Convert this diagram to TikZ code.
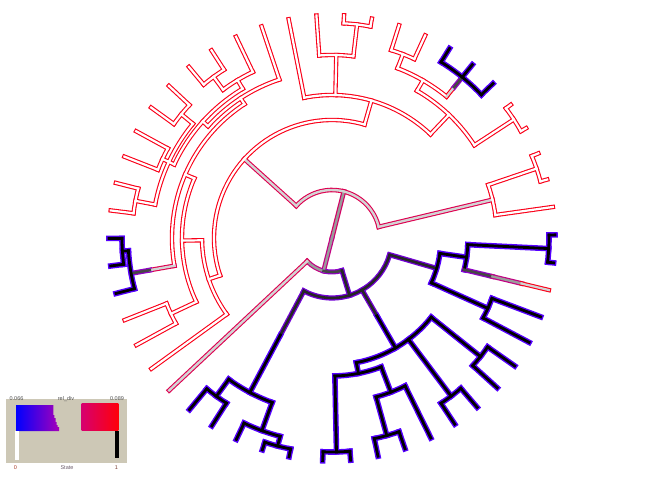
\documentclass[tikz,border=0pt]{standalone}
\usepackage{fontspec}
\setmainfont{Liberation Sans}
\definecolor{cRed}{RGB}{250,0,25}
\definecolor{cBlue}{RGB}{85,0,255}
\definecolor{cPur}{RGB}{115,0,215}
\definecolor{cMag}{RGB}{195,0,130}
\definecolor{cCri}{RGB}{222,0,80}
\definecolor{cCg}{RGB}{212,0,100}
\definecolor{cPk}{RGB}{145,0,200}
\definecolor{gLt}{RGB}{212,212,212}
\definecolor{gMd}{RGB}{155,155,155}
\definecolor{gDk}{RGB}{70,70,70}
\definecolor{legbg}{RGB}{205,200,182}
\definecolor{legtx}{RGB}{80,80,80}
\tikzset{
 base/.style={line cap=rect},
 rrout/.style={base,line width=4.4pt,draw=cRed}, rrin/.style={base,line width=2.2pt,draw=white},
 rgout/.style={base,line width=4.4pt,draw=cRed}, rgin/.style={base,line width=2.2pt,draw=gLt},
 bbout/.style={base,line width=5.6pt,draw=cBlue}, bbin/.style={base,line width=2.8pt,draw=black},
 ppout/.style={base,line width=5.2pt,draw=cPur}, ppin/.style={base,line width=2.6pt,draw=black!85},
 mgout/.style={base,line width=4.8pt,draw=cMag}, mgin/.style={base,line width=2.4pt,draw=gMd},
 ckout/.style={base,line width=4.6pt,draw=cCri}, ckin/.style={base,line width=2.4pt,draw=gLt},
 cgout/.style={base,line width=4.8pt,draw=cCg}, cgin/.style={base,line width=2.4pt,draw=gMd},
 pkout/.style={base,line width=5pt,draw=cPk}, pkin/.style={base,line width=2.6pt,draw=gDk},
 legtxt/.style={inner sep=0pt, font=\fontsize{5.5}{6}\selectfont},
}
\newif\ifinnerpass
\newcommand\R[4]{\ifinnerpass\draw[#1in] (#2:#3pt) -- (#2:#4pt);\else\draw[#1out] (#2:#3pt) -- (#2:#4pt);\fi}
\newcommand\A[4]{\ifinnerpass\draw[#1in] (#2:#4pt) arc[start angle=#2,end angle=#3,radius=#4pt];\else\draw[#1out] (#2:#4pt) arc[start angle=#2,end angle=#3,radius=#4pt];\fi}
\newcommand\treebody{%
% root
\R{cg}{75.7}{0}{48}
\R{mg}{255.7}{0}{34}
% clade A
\A{ck}{13.4}{138}{48}
\R{ck}{13.4}{48}{165}
\A{rr}{8.0}{18.75}{165}
\R{rr}{8.0}{165}{223}
\R{rr}{18.75}{165}{216}
\A{rr}{15.2}{22.3}{216}
\R{rr}{15.2}{216}{223}
\R{rr}{22.3}{216}{223}
\R{ck}{138}{48}{118}
\A{rr}{74}{198.5}{118}
% A1R
\R{rr}{74}{118}{143}
\A{rr}{46.5}{101.2}{143}
\R{rr}{101.2}{143}{223}
\R{rr}{88.65}{143}{183}
\A{rr}{83.3}{94.0}{183}
\R{rr}{94.0}{183}{223}
\R{rr}{83.3}{183}{215}
\A{rr}{79.7}{86.9}{215}
\R{rr}{79.7}{215}{223}
\R{rr}{86.9}{215}{223}
% V
\R{rr}{46.5}{143}{170}
\A{rr}{33.1}{60}{170}
\R{rr}{33.1}{170}{217}
\A{rr}{29.5}{36.7}{217}
\R{rr}{29.5}{217}{223}
\R{rr}{36.7}{217}{223}
\R{rr}{60}{170}{182}
\A{rr}{51}{68.9}{182}
\R{rg}{51}{182}{194}
\R{pk}{51}{194}{207}
\A{bb}{43.8}{58.2}{207}
\R{bb}{43.8}{207}{223}
\R{bb}{51.0}{207}{223}
\R{bb}{58.2}{207}{223}
\R{rr}{68.9}{182}{197}
\A{rr}{65.3}{72.5}{197}
\R{rr}{65.3}{197}{223}
\R{rr}{72.5}{197}{223}
% X
\R{rr}{198.5}{118}{130}
\A{rr}{181}{215.9}{130}
\R{rr}{215.9}{130}{223}
% Y
\R{rr}{181}{130}{150}
\A{rr}{156.6}{205.2}{150}
\R{rr}{205.2}{150}{178}
\A{rr}{201.6}{208.7}{178}
\R{rr}{201.6}{178}{223}
\R{rr}{208.7}{178}{223}
% Z
\R{rr}{156.6}{150}{160}
\A{rr}{123.2}{190}{160}
\R{ck}{190}{160}{185}
\R{pk}{190}{185}{204}
\A{bb}{183.6}{194.4}{204}
\R{bb}{194.4}{204}{223}
\R{bb}{183.6}{204}{210}
\A{bb}{180.1}{187.2}{210}
\R{bb}{180.1}{210}{223}
\R{bb}{187.2}{210}{223}
% W
\R{rr}{123.2}{160}{167}
\A{rr}{108.4}{137.95}{167}
\R{rr}{108.4}{167}{223}
\R{rr}{137.95}{167}{174}
\A{rr}{120.9}{155}{174}
% T1
\R{rr}{120.9}{174}{184}
\A{rr}{115.5}{126.3}{184}
\R{rr}{115.5}{184}{223}
\R{rr}{126.3}{184}{200}
\A{rr}{122.7}{129.9}{200}
\R{rr}{122.7}{200}{223}
\R{rr}{129.9}{200}{223}
% T2
\R{rr}{155}{174}{180}
\A{rr}{140.6}{169.3}{180}
\R{rr}{140.6}{180}{195}
\A{rr}{137.0}{144.2}{195}
\R{rr}{137.0}{195}{223}
\R{rr}{144.2}{195}{223}
\R{rr}{155}{180}{187}
\A{rr}{151.4}{158.6}{187}
\R{rr}{151.4}{187}{223}
\R{rr}{158.6}{187}{223}
\R{rr}{169.3}{180}{200}
\A{rr}{165.7}{172.9}{200}
\R{rr}{165.7}{200}{223}
\R{rr}{172.9}{200}{223}
% clade B
\A{mg}{223.1}{255.7}{34}
\A{pk}{255.7}{287}{34}
\R{ck}{223.1}{34}{223}
\R{pp}{287}{34}{60}
\A{pp}{242}{343}{60}
% Ng
\R{pp}{242}{60}{110}
\R{bb}{242}{110}{175}
\A{bb}{233.85}{250}{175}
\R{bb}{233.85}{175}{196}
\A{bb}{230.3}{237.4}{196}
\R{bb}{230.3}{196}{223}
\R{bb}{237.4}{196}{223}
\R{bb}{250}{175}{205}
\A{bb}{244.6}{255.35}{205}
\R{bb}{244.6}{205}{223}
\R{bb}{255.35}{205}{215}
\A{bb}{251.8}{258.9}{215}
\R{bb}{251.8}{215}{223}
\R{bb}{258.9}{215}{223}
% Na
\R{pp}{-60}{60}{90}
\R{bb}{-60}{90}{127}
\A{bb}{-78.95}{-38.6}{127}
\R{bb}{-78.95}{127}{138}
\A{bb}{-88.8}{-69.1}{138}
\R{bb}{-88.8}{138}{214}
\A{bb}{-92.4}{-85.2}{214}
\R{bb}{-92.4}{214}{223}
\R{bb}{-85.2}{214}{223}
\R{bb}{-69.1}{138}{165}
\A{bb}{-74.5}{-63.7}{165}
\R{bb}{-74.5}{165}{205}
\A{bb}{-78.1}{-70.9}{205}
\R{bb}{-78.1}{205}{223}
\R{bb}{-70.9}{205}{223}
\R{bb}{-63.7}{165}{223}
\R{bb}{-53}{127}{198}
\A{bb}{-56.6}{-49.4}{198}
\R{bb}{-56.6}{198}{223}
\R{bb}{-49.4}{198}{223}
\R{bb}{-38.6}{127}{190}
\A{bb}{-42.2}{-35.0}{190}
\R{bb}{-42.2}{190}{223}
\R{bb}{-35.0}{190}{223}
% Nf
\R{pp}{-16.2}{60}{109}
\A{bb}{-24.3}{-8.15}{109}
\R{bb}{-24.3}{109}{171}
\A{bb}{-27.9}{-20.7}{171}
\R{bb}{-27.9}{171}{223}
\R{bb}{-20.7}{171}{223}
\R{bb}{-8.15}{109}{136}
\A{bb}{-13.5}{-2.8}{136}
\R{pk}{-13.5}{136}{165}
\R{mg}{-13.5}{165}{195}
\R{rg}{-13.5}{195}{223}
\R{bb}{-2.8}{136}{217}
\A{bb}{-6.4}{0.8}{217}
\R{bb}{-6.4}{217}{223}
\R{bb}{0.8}{217}{223}
}
\begin{document}
\begin{tikzpicture}[x=1pt,y=1pt]
\useasboundingbox (0,0) rectangle (672,480);
\fill[white] (0,0) rectangle (672,480);
\begin{scope}[shift={(332,242)}]
\innerpassfalse
\treebody
\innerpasstrue
\treebody
\end{scope}
% legend
\fill[legbg] (6,17.3) rectangle (126.7,80.7);
\shade[left color={rgb,255:red,0;green,0;blue,255}, right color={rgb,255:red,165;green,0;blue,185}]
  (16,75) -- (53.3,75) -- (53.3,65) -- (54.3,65) -- (54.3,62) -- (55.7,62) -- (55.7,58) -- (56.7,58) -- (56.7,55) -- (57.7,55) -- (57.7,53) -- (59,53) -- (59,49) -- (16,49) -- cycle;
\shade[left color={rgb,255:red,215;green,0;blue,110}, right color={rgb,255:red,255;green,0;blue,10}]
  (81.7,49.3) rectangle (118.3,76.7);
\fill[white] (15,20) rectangle (19,49.3);
\fill[black] (115,22) rectangle (119,49);
\node[legtxt, text=legtx] (lmin) at (16.5,81) {0.066};
\node[legtxt, text=legtx] (lname) at (66,81) {rel\_div};
\node[legtxt, text=legtx] (lmax) at (117,81) {0.089};
\node[legtxt, text={rgb,255:red,170;green,60;blue,40}] (s0) at (15.5,12) {0};
\node[legtxt, text={rgb,255:red,110;green,95;blue,110}] (sname) at (67,12) {State};
\node[legtxt, text={rgb,255:red,120;green,60;blue,50}] (s1) at (116.5,12) {1};
\end{tikzpicture}
\end{document}
